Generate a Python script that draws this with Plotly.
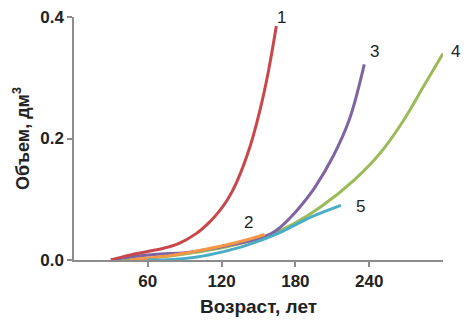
import plotly.graph_objects as go

# Curve 1 (red)
age_1 = [30, 45, 60, 72, 85, 99, 110, 118, 125, 132, 143, 151, 158, 164.5]
vol_1 = [0.0, 0.008, 0.014, 0.019, 0.027, 0.043, 0.062, 0.08, 0.1, 0.127, 0.186, 0.245, 0.31, 0.385]
# Curve 2 (orange)
age_2 = [45, 60, 80, 100, 120, 140, 155]
vol_2 = [0.0, 0.003, 0.008, 0.015, 0.023, 0.033, 0.042]
# Curve 3 (purple)
age_3 = [30, 50, 70, 90, 110, 130, 150, 160, 166, 177, 186, 196, 211, 224, 236]
vol_3 = [0.0, 0.006, 0.01, 0.012, 0.018, 0.026, 0.035, 0.043, 0.051, 0.072, 0.093, 0.12, 0.172, 0.232, 0.322]
# Curve 4 (green)
age_4 = [40, 60, 80, 100, 120, 140, 160, 179, 201, 228, 249, 268, 284, 300]
vol_4 = [0.0, 0.003, 0.007, 0.013, 0.02, 0.03, 0.042, 0.06, 0.088, 0.132, 0.176, 0.23, 0.285, 0.34]
# Curve 5 (blue)
age_5 = [60, 80, 100, 120, 140, 166, 193, 217]
vol_5 = [0.0, 0.001, 0.005, 0.013, 0.024, 0.044, 0.071, 0.09]

curve_names = ["1", "2", "3", "4", "5"]
label_x = [169, 142, 244, 310, 233]
label_y = [0.4, 0.061, 0.343, 0.343, 0.088]

x_ticks = [60, 120, 180, 240]
y_ticks = [0.0, 0.2, 0.4]
y_tick_text = ["0.0", "0.2", "0.4"]

X_MAX = 300
Y_MAX = 0.4

colors = ["#C9474B", "#F79646", "#8064A2", "#9BBB59", "#4BACC6"]

series = [(age_1, vol_1), (age_2, vol_2), (age_3, vol_3), (age_4, vol_4), (age_5, vol_5)]
order = [3, 2, 0, 1, 4]

fig = go.Figure()
for i in order:
    xs, ys = series[i]
    fig.add_trace(go.Scatter(x=xs, y=ys, mode="lines",
                             line=dict(color=colors[i], width=3, shape="spline", smoothing=1.0),
                             showlegend=False, hoverinfo="skip"))

for name, lx, ly in zip(curve_names, label_x, label_y):
    fig.add_annotation(x=lx / X_MAX, y=ly / Y_MAX, text=name, showarrow=False,
                       xanchor="center", yanchor="middle",
                       font=dict(size=17, color="#222222", family="Liberation Sans, Arial"),
                       xref="paper", yref="paper")

fig.update_layout(
    width=470, height=325,
    margin=dict(l=66, r=35, t=9, b=73),
    paper_bgcolor="white", plot_bgcolor="white",
    font=dict(family="Liberation Sans, Arial", color="#222222"),
    xaxis=dict(range=[0, X_MAX], tickvals=x_ticks, showgrid=False, zeroline=False,
               showline=True, linecolor="#8c8c8c", linewidth=1.5, automargin=False,
               ticks="outside", ticklen=5, tickcolor="#8c8c8c", tickwidth=1.5,
               ticklabeloverflow="allow",
               tickfont=dict(size=17, color="#222222", family="Liberation Sans, Arial", weight="bold"),
               title=dict(text="<b>Возраст, лет</b>", font=dict(size=19, color="#222222"), standoff=10)),
    yaxis=dict(range=[0, Y_MAX], tickvals=y_ticks, ticktext=y_tick_text, showgrid=False, zeroline=False,
               showline=True, linecolor="#8c8c8c", linewidth=1.5, automargin=False,
               ticks="outside", ticklen=5, tickcolor="#8c8c8c", tickwidth=1.5,
               ticklabeloverflow="allow",
               tickfont=dict(size=17, color="#222222", family="Liberation Sans, Arial", weight="bold"),
               title=dict(text="<b>Объем, дм<sup>3</sup></b>", font=dict(size=18, color="#222222"), standoff=6)),
)

fig.write_html("out.html")
